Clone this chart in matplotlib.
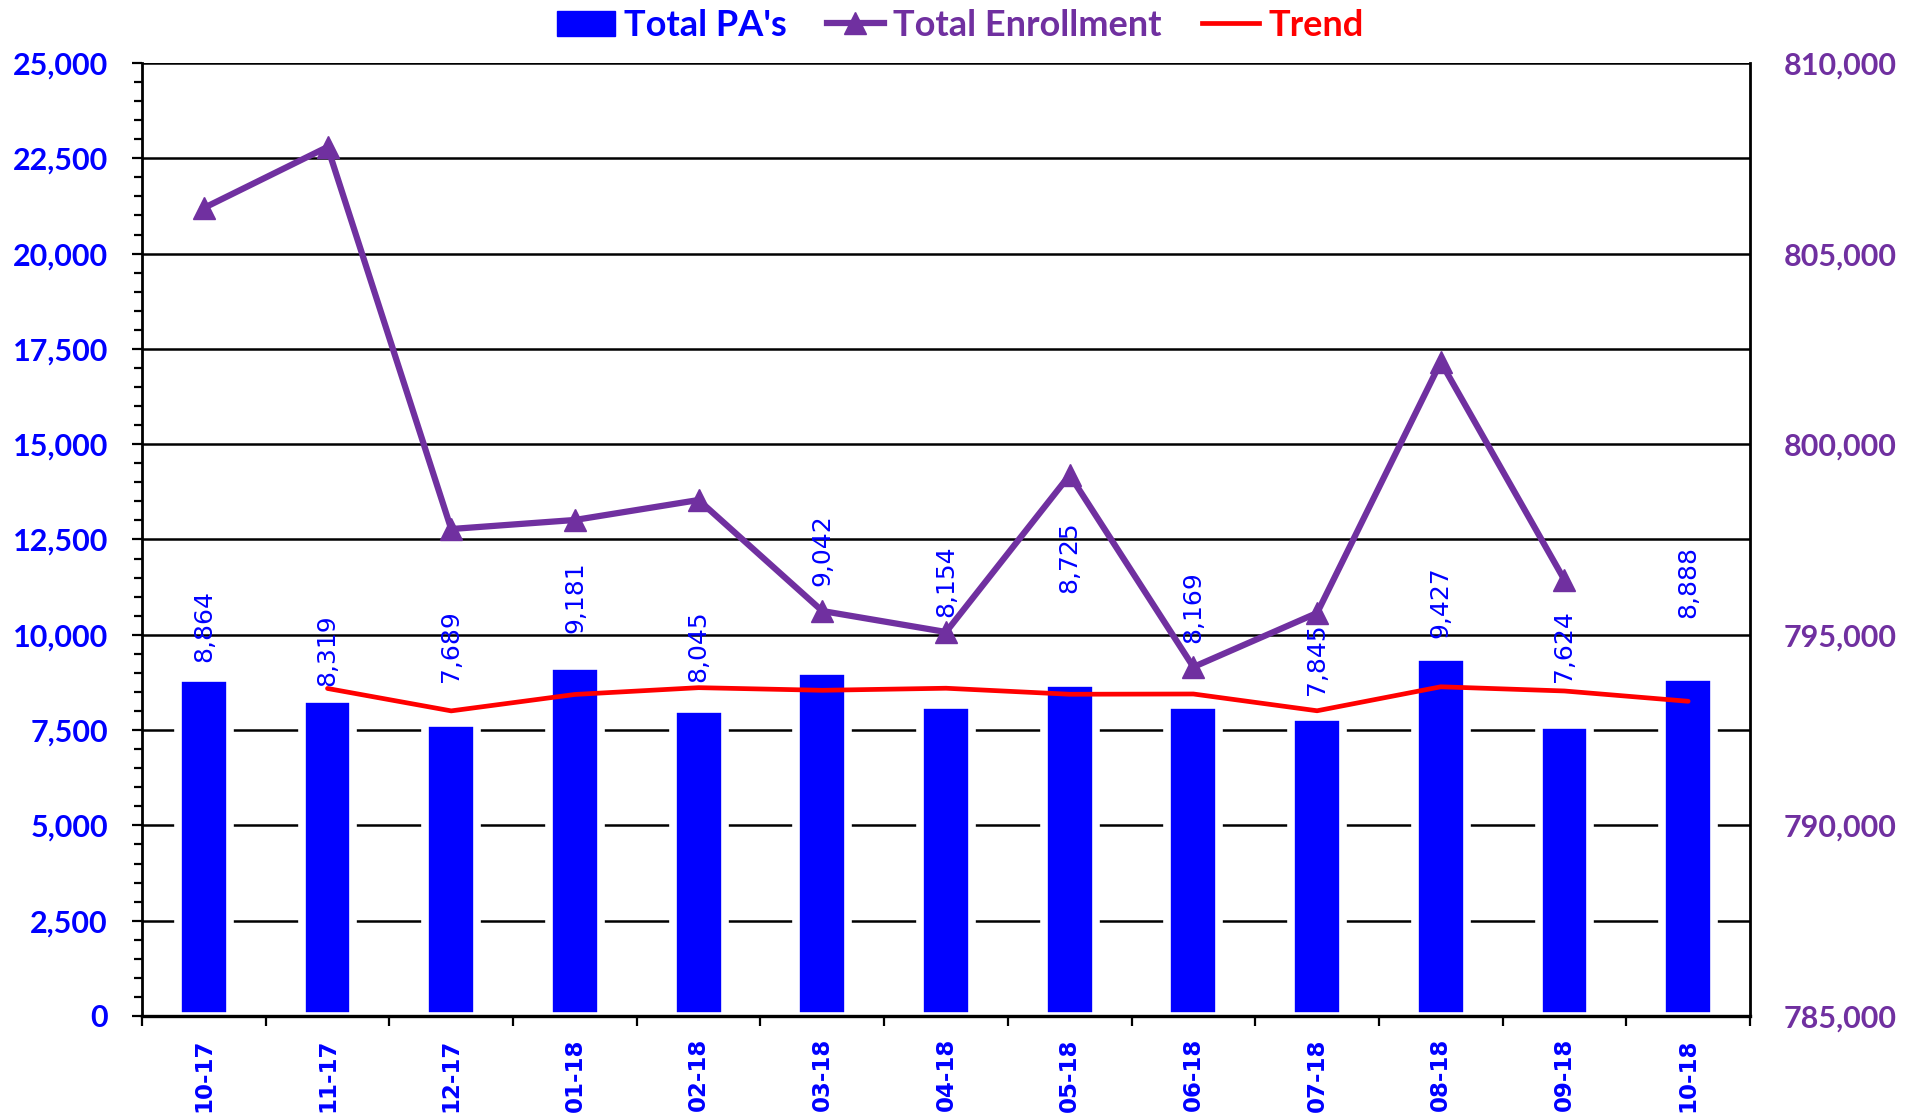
import matplotlib
matplotlib.use("Agg")
import matplotlib.pyplot as plt
from matplotlib.patches import Patch
from matplotlib.lines import Line2D
from matplotlib.ticker import MultipleLocator, FuncFormatter, FixedLocator

# data
months = ['10-17', '11-17', '12-17', '01-18', '02-18', '03-18', '04-18',
          '05-18', '06-18', '07-18', '08-18', '09-18', '10-18']
total_pas = [8864, 8319, 7689, 9181, 8045, 9042, 8154, 8725, 8169, 7845, 9427, 7624, 8888]
enrollment = [806196, 807796, 797775, 798012, 798536, 795624, 795073,
              799192, 794155, 795572, 802156, 796437]
trend = [8592, 8004, 8435, 8613, 8544, 8598, 8440, 8447, 8007, 8636, 8526, 8256]

# where Excel put each bar label (bottom of rotated text, left axis units)
label_y = [9286, 8657, 8762, 10047, 8762, 11280, 10467, 11097, 9785, 8421, 9916, 8762, 10441]

BLUE = '#0000FF'
PURPLE = '#7030A0'
RED = '#FF0000'

fig = plt.figure(figsize=(19.21, 11.15), dpi=100)
ax = fig.add_axes([0.0739, 0.0888, 0.8371, 0.8547])
ax2 = ax.twinx()

x = list(range(len(months)))

ax.bar(x, total_pas, width=0.42, color=BLUE, edgecolor='white', linewidth=5.5, zorder=2)
ax.plot(x[1:], trend, color=RED, lw=3.4, zorder=3, solid_capstyle='round')

for xi, v, ly in zip(x, total_pas, label_y):
    ax.text(xi, ly, f'{v:,}', rotation=90, ha='center', va='bottom',
            color=BLUE, fontsize=18, family='DejaVu Sans', zorder=4)

ax2.plot(x[:len(enrollment)], enrollment, color=PURPLE, lw=4.5, marker='^', ms=16,
         zorder=5)

# left axis
ax.set_xlim(-0.5, len(months) - 0.5)
ax.set_ylim(0, 25000)
ax.yaxis.set_major_locator(MultipleLocator(2500))
ax.yaxis.set_minor_locator(MultipleLocator(500))
ax.yaxis.set_major_formatter(FuncFormatter(lambda v, p: f'{int(v):,}'))
ax.grid(axis='y', color='black', lw=1.8, zorder=1)
ax.set_axisbelow(True)
ax.tick_params(axis='y', which='major', length=7.5, width=1.6, pad=17, colors='black')
ax.tick_params(axis='y', which='minor', length=6, width=1.6)
for t in ax.get_yticklabels():
    t.set_color(BLUE)
    t.set_fontfamily('Lato')
    t.set_fontweight('bold')
    t.set_fontsize(22)

ax.set_xticks(x)
ax.set_xticklabels(months, rotation=90, color=BLUE, fontsize=16.5,
                   fontweight='bold', family='DejaVu Sans')
ax.xaxis.set_minor_locator(FixedLocator([i - 0.5 for i in range(len(months) + 1)]))
ax.tick_params(axis='x', which='major', length=0, pad=16)
ax.tick_params(axis='x', which='minor', length=7.5, width=1.6)

for side in ['top', 'right']:
    ax.spines[side].set_visible(False)
ax.spines['left'].set_linewidth(2)
ax.spines['bottom'].set_linewidth(2.4)

# right axis
ax2.set_ylim(785000, 810000)
ax2.yaxis.set_major_locator(MultipleLocator(5000))
ax2.yaxis.set_major_formatter(FuncFormatter(lambda v, p: f'{int(v):,}'))
ax2.tick_params(axis='y', length=0, pad=24)
for t in ax2.get_yticklabels():
    t.set_color(PURPLE)
    t.set_fontfamily('Lato')
    t.set_fontweight('bold')
    t.set_fontsize(22)
for side in ['top', 'left', 'bottom']:
    ax2.spines[side].set_visible(False)
ax2.spines['right'].set_linewidth(2)

handles = [Patch(color=BLUE),
           Line2D([], [], color=PURPLE, lw=4.5, marker='^', ms=16),
           Line2D([], [], color=RED, lw=3.4)]
leg = fig.legend(handles, ["Total PA's", 'Total Enrollment', 'Trend'], ncol=3,
                 loc='upper center', bbox_to_anchor=(0.5, 1.021), frameon=False,
                 prop={'family': 'Lato', 'weight': 'bold', 'size': 26},
                 handlelength=1.6, handletextpad=0.25, columnspacing=1.1)
for txt, c in zip(leg.get_texts(), [BLUE, PURPLE, RED]):
    txt.set_color(c)

fig.savefig('out.png', dpi=100)
